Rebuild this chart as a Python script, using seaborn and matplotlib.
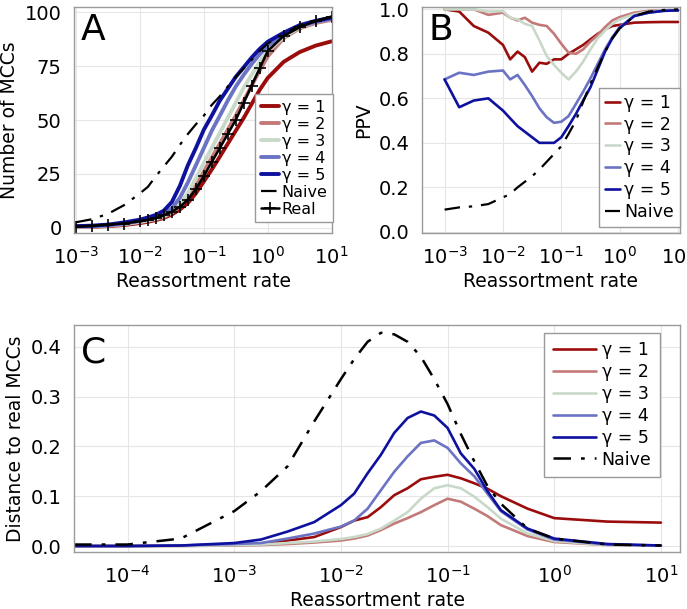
import numpy as np
import pandas as pd
import matplotlib
matplotlib.use("Agg")
import matplotlib.pyplot as plt
import seaborn as sns

# ── data ─────────────────────────────────────────────────────
# shared x grid for panels A and B
rate_ab = [1.0e-3, 1.78e-3, 3.16e-3, 5.62e-3, 1.0e-2, 1.33e-2, 1.78e-2, 2.37e-2,
           3.16e-2, 4.22e-2, 5.62e-2, 7.5e-2, 1.0e-1, 1.33e-1, 1.78e-1, 2.37e-1,
           3.16e-1, 4.22e-1, 5.62e-1, 7.5e-1, 1.0, 1.78, 3.16, 5.62, 10.0]

# panel A: number of MCCs
mcc_g1 = [0.3, 0.5, 0.8, 1.3, 2.2, 2.8, 3.6, 4.6, 6.2, 8.5, 11.5, 16, 21.5, 27, 33, 39,
          45, 51, 57.5, 64, 69.5, 77, 81.5, 84.5, 86.5]
mcc_g2 = [0.4, 0.6, 1, 1.6, 2.6, 3.2, 4, 5, 7, 10, 14, 19.5, 26, 32.5, 39, 45.5,
          52, 59, 66, 73, 79.5, 88, 92.5, 95, 96.5]
mcc_g3 = [0.5, 0.7, 1.1, 1.8, 2.8, 3.5, 4.3, 5.5, 7.5, 11, 16, 23, 30, 37, 44, 51,
          58, 65, 71, 77, 82, 88.5, 93, 95.5, 97]
mcc_g4 = [0.6, 0.8, 1.2, 2, 3.2, 4, 5, 6.5, 9, 14, 21, 29, 37, 45, 52, 59,
          65.5, 71, 76, 80.5, 84.5, 89.5, 93.5, 95.5, 97]
mcc_g5 = [0.8, 1, 1.5, 2.5, 3.8, 4.8, 6, 8, 12, 19.5, 29, 37, 45.5, 52, 59, 64.5,
          70, 74.5, 79, 83, 86.3, 90.5, 94, 96, 97.5]
mcc_naive = [2.6, 4, 6.5, 10.5, 16, 19, 24, 28.5, 33, 38.5, 43.5, 48, 52, 57, 61, 65.5,
             70, 74, 78, 82, 85.5, 90, 93.8, 96, 97.7]
mcc_real = [0.5, 1, 1.5, 2, 3, 3.7, 4.5, 5.8, 7.5, 9.8, 13, 18, 24, 30.5, 37, 43.5,
            50, 58, 66, 74, 82, 89, 93, 96, 98]

# panel B: PPV
ppv_g1 = [1.0, 0.99, 0.925, 0.895, 0.84, 0.775, 0.81, 0.785, 0.72, 0.76, 0.755, 0.775,
          0.775, 0.8, 0.82, 0.84, 0.865, 0.89, 0.91, 0.925, 0.93, 0.94, 0.942, 0.943, 0.943]
ppv_g2 = [1.0, 1.0, 1.0, 0.975, 0.985, 0.962, 0.95, 0.962, 0.94, 0.93, 0.925, 0.89,
          0.845, 0.805, 0.8, 0.82, 0.855, 0.885, 0.92, 0.95, 0.965, 0.985, 0.993, 0.996, 0.997]
ppv_g3 = [1.0, 1.0, 1.0, 0.99, 0.992, 0.962, 0.955, 0.935, 0.925, 0.86, 0.79, 0.75,
          0.715, 0.685, 0.72, 0.765, 0.82, 0.87, 0.905, 0.935, 0.955, 0.978, 0.99, 0.995, 0.997]
ppv_g4 = [0.685, 0.715, 0.705, 0.72, 0.725, 0.685, 0.705, 0.66, 0.61, 0.555, 0.515, 0.49,
          0.495, 0.52, 0.575, 0.63, 0.69, 0.755, 0.82, 0.875, 0.92, 0.97, 0.985, 0.993, 0.995]
ppv_g5 = [0.685, 0.56, 0.59, 0.6, 0.545, 0.51, 0.475, 0.45, 0.425, 0.4, 0.4, 0.4,
          0.425, 0.475, 0.53, 0.59, 0.65, 0.73, 0.81, 0.87, 0.915, 0.97, 0.985, 0.993, 0.995]
ppv_naive = [0.1, 0.11, 0.115, 0.125, 0.155, 0.17, 0.2, 0.225, 0.25, 0.28, 0.315, 0.35,
             0.385, 0.44, 0.5, 0.585, 0.665, 0.74, 0.81, 0.87, 0.915, 0.97, 0.99, 0.997, 1.0]

# panel C: distance to real MCCs
rate_c = [3.16e-5, 1.0e-4, 3.16e-4, 1.0e-3, 1.78e-3, 3.16e-3, 5.62e-3, 1.0e-2,
          1.33e-2, 1.78e-2, 2.37e-2, 3.16e-2, 4.22e-2, 5.62e-2, 7.5e-2, 1.0e-1,
          1.33e-1, 1.78e-1, 2.37e-1, 3.16e-1, 5.62e-1, 1.0, 3.16, 10.0]
dist_g1 = [0, 0, 0.001, 0.003, 0.005, 0.011, 0.018, 0.038, 0.051, 0.058, 0.078, 0.102,
           0.116, 0.134, 0.139, 0.143, 0.136, 0.126, 0.115, 0.1, 0.075, 0.056, 0.049, 0.047]
dist_g2 = [0, 0, 0, 0.001, 0.002, 0.004, 0.007, 0.011, 0.015, 0.021, 0.032, 0.045,
           0.056, 0.068, 0.082, 0.095, 0.089, 0.075, 0.06, 0.042, 0.02, 0.008, 0.002, 0.001]
dist_g3 = [0, 0, 0, 0.002, 0.003, 0.006, 0.009, 0.014, 0.018, 0.024, 0.035, 0.051,
           0.068, 0.095, 0.116, 0.122, 0.116, 0.099, 0.078, 0.055, 0.025, 0.01, 0.002, 0.001]
dist_g4 = [0, 0, 0.001, 0.004, 0.006, 0.015, 0.025, 0.039, 0.051, 0.075, 0.112, 0.149,
           0.18, 0.207, 0.212, 0.197, 0.166, 0.14, 0.105, 0.07, 0.033, 0.013, 0.003, 0.001]
dist_g5 = [0, 0, 0.001, 0.006, 0.013, 0.029, 0.048, 0.082, 0.105, 0.146, 0.183, 0.227,
           0.257, 0.27, 0.262, 0.237, 0.186, 0.155, 0.11, 0.072, 0.035, 0.015, 0.004, 0.001]
dist_naive = [0.003, 0.003, 0.015, 0.07, 0.11, 0.16, 0.25, 0.335, 0.375, 0.41, 0.428, 0.425,
              0.41, 0.38, 0.335, 0.285, 0.225, 0.17, 0.12, 0.085, 0.035, 0.015, 0.003, 0.001]

gamma_labels = ["γ = 1", "γ = 2", "γ = 3", "γ = 4", "γ = 5"]
gamma_colors = ["#9b0d0d", "#c27a78", "#c9d9c9", "#6b73c4", "#0e119e"]
decades_ab = [1e-3, 1e-2, 1e-1, 1e0, 1e1]
decades_c = [1e-4, 1e-3, 1e-2, 1e-1, 1e0, 1e1]

# ── style ────────────────────────────────────────────────────
sns.set_theme(style="whitegrid")
plt.rcParams["font.family"] = ["DejaVu Sans"]
plt.rcParams.update({
    "axes.edgecolor": "#9a9a9a",
    "axes.linewidth": 1.0,
    "grid.color": "#e6e6e6",
    "grid.linewidth": 0.8,
    "xtick.bottom": False,
    "ytick.left": False,
    "text.color": "black",
    "axes.labelcolor": "black",
    "xtick.color": "black",
    "ytick.color": "black",
})
dashdot = (0, (7, 4, 1.5, 4))

fig = plt.figure(figsize=(6.87, 6.09), dpi=100)
axA = fig.add_axes([0.108, 0.6174, 0.3755, 0.371])
axB = fig.add_axes([0.614, 0.6174, 0.3755, 0.371])
axC = fig.add_axes([0.108, 0.0936, 0.882, 0.373])


def finish(ax, ylabel, ticks):
    ax.set_xscale("log")
    ax.set_xticks(ticks)
    ax.set_xlabel("Reassortment rate", fontsize=13.5, labelpad=3)
    ax.set_ylabel(ylabel, fontsize=13.5)
    ax.tick_params(labelsize=14, pad=3)
    ax.tick_params(which="minor", bottom=False, left=False)
    ax.grid(True, which="major")
    ax.grid(False, which="minor")
    for s in ax.spines.values():
        s.set_visible(True)


def legend(ax, **kw):
    ax.legend(borderaxespad=0, fancybox=False, framealpha=1,
              edgecolor="#9a9a9a", **kw)


# ── Panel A ──────────────────────────────────────────────────
for lab, vals, col in zip(gamma_labels, [mcc_g1, mcc_g2, mcc_g3, mcc_g4, mcc_g5], gamma_colors):
    sns.lineplot(x=rate_ab, y=vals, ax=axA, color=col, lw=2.8, label=lab)
sns.lineplot(x=rate_ab, y=mcc_naive, ax=axA, color="black", lw=1.6, label="Naive",
             linestyle=dashdot)
sns.lineplot(x=rate_ab, y=mcc_real, ax=axA, color="black", lw=1.8, label="Real",
             marker="+", markersize=9, markeredgewidth=1.2,
             markeredgecolor="black", markerfacecolor="black")
finish(axA, "Number of MCCs", decades_ab)
axA.set_xlim(10 ** -3.03, 10 ** 1.01)
axA.set_ylim(-2.4, 102.4)
axA.set_yticks([0, 25, 50, 75, 100])
axA.text(0.025, 0.975, "A", transform=axA.transAxes, fontsize=26, va="top", ha="left")
legend(axA, loc="lower right", bbox_to_anchor=(1.004, 0.048), fontsize=11.5,
       handlelength=1.1, handletextpad=0.2, labelspacing=0.12, borderpad=0.35)

# ── Panel B ──────────────────────────────────────────────────
for lab, vals, col in zip(gamma_labels, [ppv_g1, ppv_g2, ppv_g3, ppv_g4, ppv_g5], gamma_colors):
    sns.lineplot(x=rate_ab, y=vals, ax=axB, color=col, lw=1.9, label=lab)
sns.lineplot(x=rate_ab, y=ppv_naive, ax=axB, color="black", lw=1.6, label="Naive",
             linestyle=dashdot)
finish(axB, "PPV", decades_ab)
axB.set_xlim(10 ** -3.39, 10 ** 1.03)
axB.set_ylim(-0.005, 1.01)
axB.set_yticks([0.0, 0.2, 0.4, 0.6, 0.8, 1.0])
axB.set_yticklabels(["0.0", "0.2", "0.4", "0.6", "0.8", "1.0"])
axB.text(0.025, 0.975, "B", transform=axB.transAxes, fontsize=26, va="top", ha="left")
legend(axB, loc="lower right", bbox_to_anchor=(1.0, 0.027), fontsize=12.5,
       handlelength=0.9, handletextpad=0.2, labelspacing=0.22, borderpad=0.35)

# ── Panel C ──────────────────────────────────────────────────
for lab, vals, col in zip(gamma_labels, [dist_g1, dist_g2, dist_g3, dist_g4, dist_g5], gamma_colors):
    sns.lineplot(x=rate_c, y=vals, ax=axC, color=col, lw=1.9, label=lab)
sns.lineplot(x=rate_c, y=dist_naive, ax=axC, color="black", lw=1.8, label="Naive",
             linestyle=dashdot)
finish(axC, "Distance to real MCCs", decades_c)
axC.set_xlim(10 ** -4.5, 10 ** 1.18)
axC.set_ylim(-0.012, 0.444)
axC.set_yticks([0.0, 0.1, 0.2, 0.3, 0.4])
axC.set_yticklabels(["0.0", "0.1", "0.2", "0.3", "0.4"])
axC.text(0.012, 0.955, "C", transform=axC.transAxes, fontsize=26, va="top", ha="left")
legend(axC, loc="upper right", bbox_to_anchor=(0.967, 0.965), fontsize=12.5,
       handlelength=2.5, handletextpad=0.3, labelspacing=0.22, borderpad=0.5)

fig.savefig("out.png", dpi=100)
